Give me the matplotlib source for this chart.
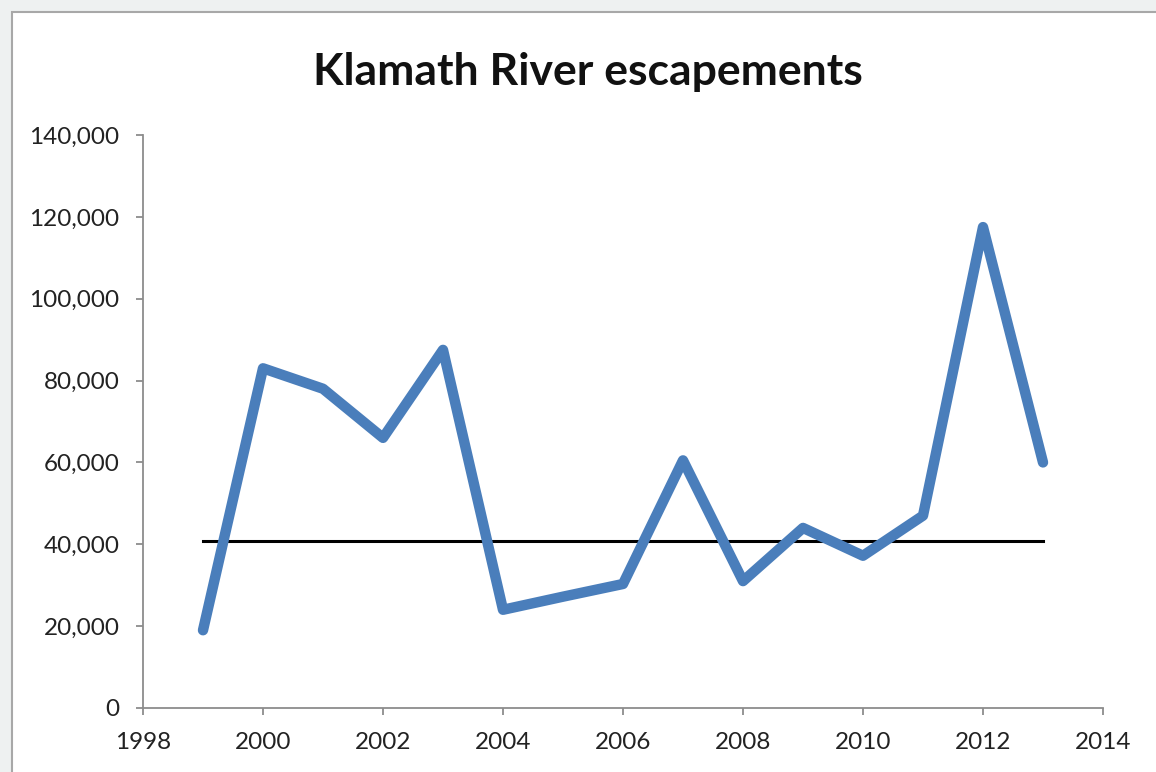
import matplotlib.pyplot as plt
from matplotlib.patches import Rectangle
from matplotlib.ticker import FuncFormatter

# Klamath River escapement counts
years = [1999, 2000, 2001, 2002, 2003, 2004, 2005, 2006,
         2007, 2008, 2009, 2010, 2011, 2012, 2013]
escapement = [19000, 83000, 78000, 66000, 87500, 24000, 27200, 30300,
              60500, 31000, 44000, 37200, 47000, 117500, 60000]
goal_years = [1999, 2013]
goal_value = [40700, 40700]

x_ticks = list(range(1998, 2015, 2))
y_ticks = list(range(0, 140001, 20000))

plt.rcParams['font.family'] = ['Lato', 'DejaVu Sans']

fig = plt.figure(figsize=(11.56, 7.72), dpi=100, facecolor='#eef1f1')

# white chart frame, cut off at the right and bottom like the screenshot
frame = Rectangle((12 / 1156, -0.05), 1.2, (772 - 12) / 772 + 0.05,
                  transform=fig.transFigure, facecolor='white',
                  edgecolor='#a8a8a8', linewidth=1.5, zorder=-5)
fig.patches.append(frame)

ax = fig.add_axes([143 / 1156, 1 - 708 / 772, 960 / 1156, (708 - 135) / 772])
ax.set_zorder(2)
ax.set_facecolor('none')

ax.plot(years, escapement, color='#4a7ebb', linewidth=7.5,
        solid_joinstyle='round', solid_capstyle='round', zorder=3)
ax.plot(goal_years, goal_value, color='black', linewidth=2.2, zorder=2)

ax.set_xlim(1998, 2014)
ax.set_ylim(0, 140000)
ax.set_xticks(x_ticks)
ax.set_yticks(y_ticks)
ax.yaxis.set_major_formatter(FuncFormatter(lambda v, p: f'{int(v):,}'))

for side in ['top', 'right']:
    ax.spines[side].set_visible(False)
for side in ['left', 'bottom']:
    ax.spines[side].set_color('#8c8c8c')
    ax.spines[side].set_linewidth(1.3)

ax.tick_params(axis='both', direction='out', length=5, width=1.3,
               color='#8c8c8c', labelsize=17.5, labelcolor='#222222')
ax.tick_params(axis='x', pad=12)
ax.tick_params(axis='y', pad=12)

fig.text(588 / 1156, 1 - 72 / 772, 'Klamath River escapements',
         ha='center', va='center', fontsize=32, fontweight='bold',
         color='#111111', zorder=3)

fig.savefig('out.png', dpi=100, facecolor=fig.get_facecolor())
